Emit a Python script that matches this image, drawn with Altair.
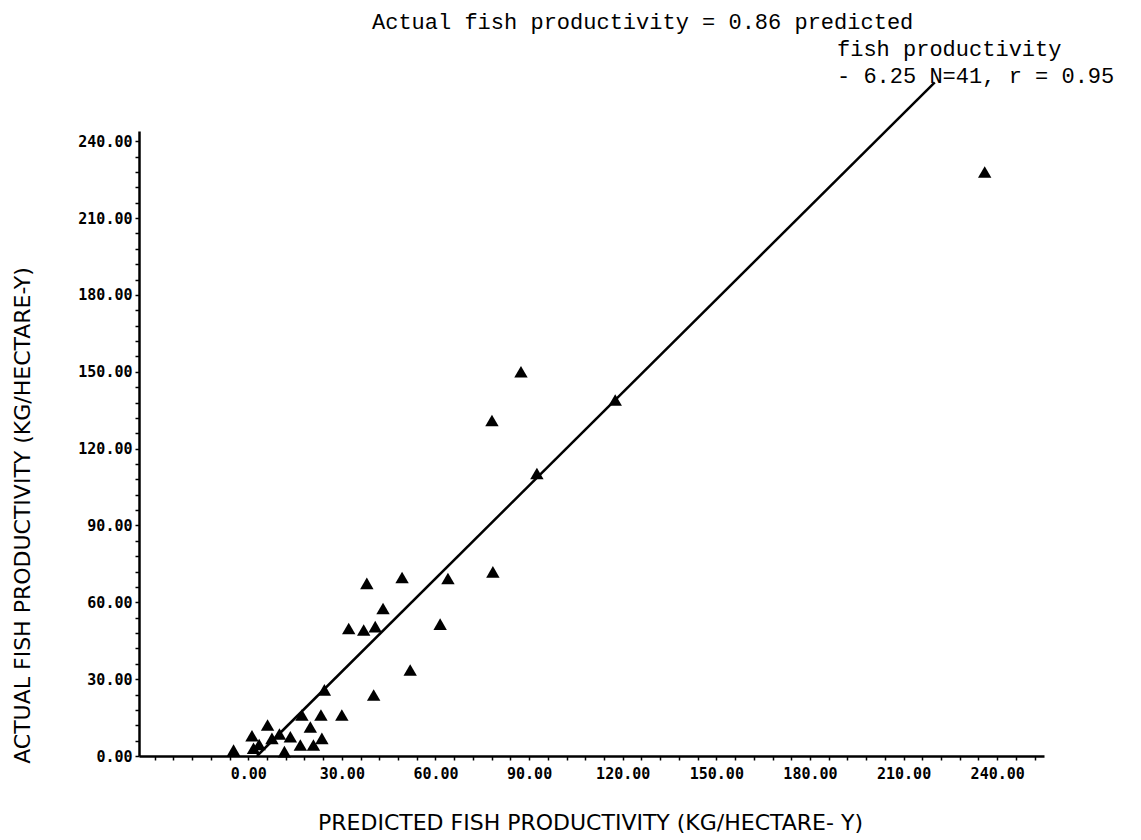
import altair as alt
import pandas as pd

# Predicted vs actual fish productivity (kg/hectare-y)
predicted = [-4.7, 1.2, 1.7, 3.5, 6.2, 7.6, 10.0, 11.6, 13.5, 16.7, 17.2, 19.9, 20.9,
             23.3, 23.6, 24.4, 30.0, 32.2, 37.0, 40.7, 38.0, 43.2, 40.2, 49.3, 51.9,
             61.5, 64.0, 78.4, 78.1, 87.4, 92.5, 117.6, 236.0]
actual = [2.3, 7.9, 3.0, 4.5, 12.1, 6.9, 8.6, 1.7, 7.5, 4.3, 16.0, 11.3, 4.3,
          16.0, 6.9, 25.8, 16.0, 49.8, 49.2, 50.5, 67.4, 57.6, 23.8, 69.7, 33.6,
          51.5, 69.3, 71.9, 131.0, 150.0, 110.3, 139.0, 228.0]

# Regression line end points as drawn
line_x = [2.8, 220.0]
line_y = [0.0, 263.0]

x_ticks = list(range(-30, 253, 6))
y_ticks = list(range(0, 241, 6))

eq_lines = ["Actual fish productivity = 0.86 predicted",
            "fish productivity",
            "- 6.25 N=41, r = 0.95"]

pts = pd.DataFrame({"pred": predicted, "act": actual})
ln = pd.DataFrame({"pred": line_x, "act": line_y})

lbl_font = "DejaVu Sans Mono"
ttl_font = "DejaVu Sans"

x_axis = alt.Axis(values=x_ticks,
                  labelExpr="(datum.value % 30 == 0 && datum.value >= 0) ? format(datum.value, '.2f') : ''",
                  grid=False, tickSize=4, tickColor="black", tickWidth=1.5,
                  domainColor="black", domainWidth=2.5,
                  labelFont=lbl_font, labelFontWeight="bold", labelFontSize=15, labelColor="black",
                  labelPadding=6, labelOverlap=False, labelBound=False, labelFlush=False,
                  title="PREDICTED FISH PRODUCTIVITY (KG/HECTARE- Y)", titleFont=ttl_font,
                  titleFontSize=22, titleFontWeight="normal", titleColor="black",
                  titleX=451, titleY=66, titleBaseline="middle", titleAlign="center")
y_axis = alt.Axis(values=y_ticks,
                  labelExpr="(datum.value % 30 == 0) ? format(datum.value, '.2f') : ''",
                  grid=False, tickSize=4, tickColor="black", tickWidth=1.5,
                  domainColor="black", domainWidth=2.5,
                  labelFont=lbl_font, labelFontWeight="bold", labelFontSize=15, labelColor="black",
                  labelPadding=3, labelOverlap=False, labelBound=False, labelFlush=False,
                  title="ACTUAL FISH PRODUCTIVITY (KG/HECTARE-Y)", titleFont=ttl_font,
                  titleFontSize=22, titleFontWeight="normal", titleColor="black",
                  titleX=-117, titleY=384, titleBaseline="middle", titleAlign="center", titleAngle=270)

xs = alt.Scale(domain=[-35, 255], nice=False, zero=False)
ys = alt.Scale(domain=[0, 244], nice=False, zero=False)

points = alt.Chart(pts).mark_point(shape="triangle-up", filled=True, color="black", size=180, opacity=1).encode(
    x=alt.X("pred:Q", scale=xs, axis=x_axis),
    y=alt.Y("act:Q", scale=ys, axis=y_axis),
)

reg = alt.Chart(ln).mark_line(color="black", strokeWidth=2.5, clip=False).encode(
    x=alt.X("pred:Q", scale=xs, axis=x_axis),
    y=alt.Y("act:Q", scale=ys, axis=y_axis),
)

eq_font = "Liberation Mono"
t1 = alt.Chart(pd.DataFrame({"t": [eq_lines[0]]})).mark_text(
    align="left", baseline="middle", font=eq_font, fontSize=22, color="black"
).encode(x=alt.value(233), y=alt.value(-109), text="t:N")
t2 = alt.Chart(pd.DataFrame({"t": [eq_lines[1]]})).mark_text(
    align="left", baseline="middle", font=eq_font, fontSize=22, color="black"
).encode(x=alt.value(698), y=alt.value(-82), text="t:N")
t3 = alt.Chart(pd.DataFrame({"t": [eq_lines[2]]})).mark_text(
    align="left", baseline="middle", font=eq_font, fontSize=22, color="black"
).encode(x=alt.value(698), y=alt.value(-55), text="t:N")

chart = alt.layer(points, reg, t1, t2, t3).properties(
    width=905, height=625,
    autosize=alt.AutoSizeParams(type="none"),
    padding={"left": 139, "top": 131, "right": 97, "bottom": 84},
    background="white",
).configure_view(stroke=None)

chart.save("out.html", embed_options={"renderer": "svg", "actions": False})
